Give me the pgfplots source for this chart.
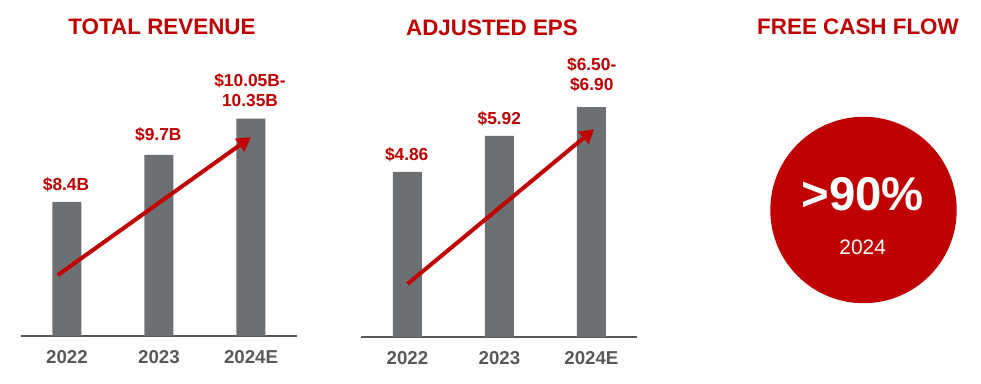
\documentclass[border=0pt]{standalone}
\usepackage{pgfplots}
\pgfplotsset{compat=1.18}
\usepackage{fontspec}
\setmainfont{Liberation Sans}
\usetikzlibrary{arrows.meta}
\definecolor{rd}{HTML}{C00000}
\definecolor{bargray}{HTML}{6D7073}
\definecolor{txtgray}{HTML}{595959}
\pgfplotsset{
  panel/.style={
    anchor=south west, scale only axis,
    width=207pt, height=187.5pt,
    xmin=-0.5, xmax=2.5,
    axis x line*=bottom, axis y line=none,
    x axis line style={-, draw=txtgray, line width=1pt},
    xtick={0,1,2}, xticklabels={2022,2023,2024E},
    xtick style={draw=none},
    major tick length=0pt,
    xticklabel style={font=\bfseries\fontsize{14}{16}\selectfont, text=txtgray, inner sep=0pt, anchor=north, yshift=-11pt},
  }
}
\begin{document}
\begin{tikzpicture}[x=0.75pt,y=0.75pt]
\useasboundingbox (0,0) rectangle (981,383);
% ---- Total revenue
\begin{axis}[panel, at={(15.75pt,35.25pt)}, ymin=4.7, ymax=11.6]
\addplot[ybar, bar width=21.75pt, fill=bargray, draw=none] coordinates {(0,8.4) (1,9.7) (2,10.7)};
\draw[rd, line width=3pt, -{Triangle[length=10.5pt,width=11.5pt]}] (axis cs:-0.1,6.38) -- (axis cs:2.0,10.19);
\end{axis}
% ---- Adjusted EPS
\begin{axis}[panel, at={(271.1pt,34.5pt)}, ymin=0, ymax=7.36]
\addplot[ybar, bar width=21.75pt, fill=bargray, draw=none] coordinates {(0,4.86) (1,5.92) (2,6.77)};
\draw[rd, line width=3pt, -{Triangle[length=10.5pt,width=11.5pt]}] (axis cs:0,1.56) -- (axis cs:2.03,6.12);
\end{axis}
% ---- titles
\begin{scope}[every node/.style={text=rd, font=\bfseries\fontsize{16.8}{19}\selectfont, inner sep=0pt, anchor=base}]
\node at (162,348.7) {TOTAL REVENUE};
\node at (492,348) {ADJUSTED EPS};
\node at (858,348.7) {FREE CASH FLOW};
\end{scope}
% ---- value labels
\begin{scope}[every node/.style={text=rd, font=\bfseries\fontsize{13}{15}\selectfont, inner sep=0pt, anchor=base}]
\node at (66,192.3) {\$8.4B};
\node at (158.3,243) {\$9.7B};
\node at (250,296.3) {\$10.05B-};
\node at (250,276.3) {10.35B};
\node at (406.7,222.3) {\$4.86};
\node at (499.3,259) {\$5.92};
\node at (591.7,313) {\$6.50-};
\node at (591.7,292.3) {\$6.90};
\end{scope}
% ---- free cash flow circle
\fill[rd] (863.5,173) circle (93.2);
\node[text=white, font=\bfseries\fontsize{35.5}{38}\selectfont, inner sep=0pt, anchor=base] at (862.7,172.3) {>90\%};
\node[text=white, font=\fontsize{15.7}{18}\selectfont, inner sep=0pt, anchor=base] at (862.7,129) {2024};
\end{tikzpicture}
\end{document}
